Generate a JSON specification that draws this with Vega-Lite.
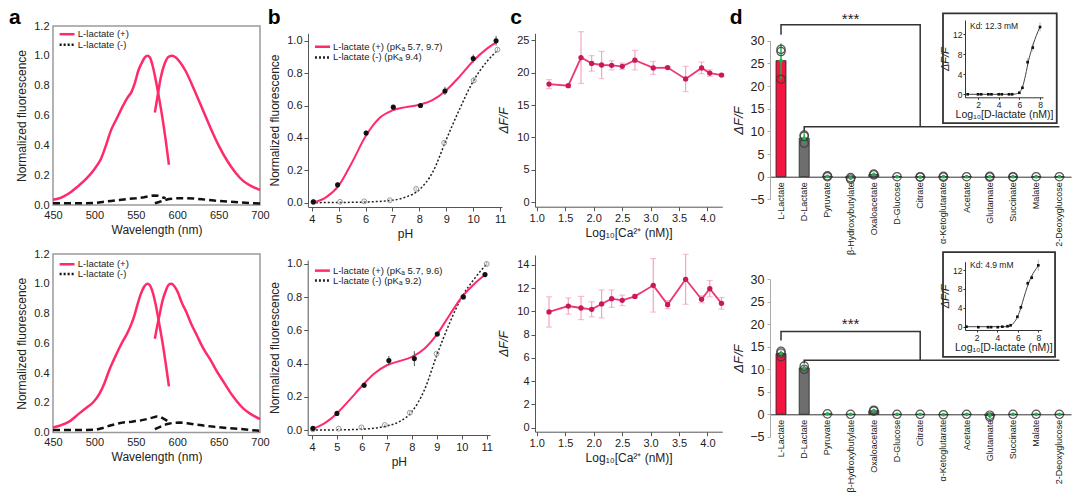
{
"$schema":"https://vega.github.io/schema/vega-lite/v6.json",
"width":1080,"height":498,"autosize":{"type":"none"},"padding":0,
"config":{"view":{"stroke":null},"font":"Liberation Sans","axis":{"grid":false,"labelFont":"Liberation Sans","titleFont":"Liberation Sans","labelFontSize":11,"titleFontSize":12,"titleFontWeight":"normal","labelColor":"#222","titleColor":"#222","domainColor":"#555","tickColor":"#555","labelFlush":false,"labelOverlap":false,"tickSize":4,"labelPadding":2,"titlePadding":4}},
"datasets":{
"a1":[
{"s":"pe","x":450,"y":0.035},{"s":"pe","x":460,"y":0.05},{"s":"pe","x":470,"y":0.08},{"s":"pe","x":480,"y":0.125},{"s":"pe","x":490,"y":0.175},{"s":"pe","x":500,"y":0.24},{"s":"pe","x":508,"y":0.31},{"s":"pe","x":514,"y":0.4},{"s":"pe","x":520,"y":0.5},{"s":"pe","x":527,"y":0.58},{"s":"pe","x":534,"y":0.66},{"s":"pe","x":540,"y":0.72},{"s":"pe","x":545,"y":0.76},{"s":"pe","x":549,"y":0.82},{"s":"pe","x":553,"y":0.9},{"s":"pe","x":557,"y":0.95},{"s":"pe","x":561,"y":0.99},{"s":"pe","x":564,"y":1.0},{"s":"pe","x":567,"y":0.99},{"s":"pe","x":570,"y":0.94},{"s":"pe","x":574,"y":0.84},{"s":"pe","x":578,"y":0.72},{"s":"pe","x":582,"y":0.59},{"s":"pe","x":586,"y":0.44},{"s":"pe","x":590,"y":0.27},
{"s":"pm","x":573,"y":0.62},{"s":"pm","x":576,"y":0.72},{"s":"pm","x":580,"y":0.85},{"s":"pm","x":585,"y":0.95},{"s":"pm","x":590,"y":0.995},{"s":"pm","x":594,"y":1.0},{"s":"pm","x":598,"y":0.99},{"s":"pm","x":603,"y":0.96},{"s":"pm","x":610,"y":0.9},{"s":"pm","x":620,"y":0.78},{"s":"pm","x":630,"y":0.65},{"s":"pm","x":640,"y":0.52},{"s":"pm","x":650,"y":0.4},{"s":"pm","x":660,"y":0.3},{"s":"pm","x":670,"y":0.22},{"s":"pm","x":680,"y":0.16},{"s":"pm","x":690,"y":0.125},{"s":"pm","x":700,"y":0.1},
{"s":"ke","x":450,"y":0.012},{"s":"ke","x":470,"y":0.012},{"s":"ke","x":490,"y":0.012},{"s":"ke","x":500,"y":0.014},{"s":"ke","x":510,"y":0.02},{"s":"ke","x":520,"y":0.027},{"s":"ke","x":530,"y":0.033},{"s":"ke","x":540,"y":0.04},{"s":"ke","x":550,"y":0.045},{"s":"ke","x":560,"y":0.052},{"s":"ke","x":567,"y":0.06},{"s":"ke","x":572,"y":0.064},{"s":"ke","x":577,"y":0.062},{"s":"ke","x":582,"y":0.052},{"s":"ke","x":586,"y":0.045},
{"s":"km","x":573,"y":0.012},{"s":"km","x":578,"y":0.02},{"s":"km","x":583,"y":0.03},{"s":"km","x":590,"y":0.04},{"s":"km","x":600,"y":0.045},{"s":"km","x":610,"y":0.046},{"s":"km","x":620,"y":0.044},{"s":"km","x":630,"y":0.038},{"s":"km","x":645,"y":0.03},{"s":"km","x":660,"y":0.024},{"s":"km","x":675,"y":0.018},{"s":"km","x":690,"y":0.013},{"s":"km","x":700,"y":0.01}],
"a2":[
{"s":"pe","x":450,"y":0.034},{"s":"pe","x":460,"y":0.05},{"s":"pe","x":470,"y":0.075},{"s":"pe","x":480,"y":0.12},{"s":"pe","x":490,"y":0.165},{"s":"pe","x":498,"y":0.2},{"s":"pe","x":506,"y":0.26},{"s":"pe","x":512,"y":0.33},{"s":"pe","x":518,"y":0.42},{"s":"pe","x":526,"y":0.52},{"s":"pe","x":533,"y":0.6},{"s":"pe","x":539,"y":0.66},{"s":"pe","x":544,"y":0.72},{"s":"pe","x":548,"y":0.78},{"s":"pe","x":552,"y":0.86},{"s":"pe","x":556,"y":0.93},{"s":"pe","x":560,"y":0.98},{"s":"pe","x":564,"y":1.0},{"s":"pe","x":567,"y":0.99},{"s":"pe","x":570,"y":0.95},{"s":"pe","x":574,"y":0.86},{"s":"pe","x":578,"y":0.74},{"s":"pe","x":583,"y":0.58},{"s":"pe","x":587,"y":0.43},{"s":"pe","x":590,"y":0.31},
{"s":"pm","x":573,"y":0.63},{"s":"pm","x":576,"y":0.72},{"s":"pm","x":579,"y":0.8},{"s":"pm","x":582,"y":0.88},{"s":"pm","x":586,"y":0.95},{"s":"pm","x":590,"y":0.995},{"s":"pm","x":593,"y":1.0},{"s":"pm","x":597,"y":0.98},{"s":"pm","x":601,"y":0.94},{"s":"pm","x":605,"y":0.88},{"s":"pm","x":611,"y":0.81},{"s":"pm","x":617,"y":0.73},{"s":"pm","x":624,"y":0.65},{"s":"pm","x":631,"y":0.57},{"s":"pm","x":640,"y":0.49},{"s":"pm","x":648,"y":0.41},{"s":"pm","x":656,"y":0.34},{"s":"pm","x":664,"y":0.27},{"s":"pm","x":672,"y":0.21},{"s":"pm","x":680,"y":0.16},{"s":"pm","x":690,"y":0.12},{"s":"pm","x":700,"y":0.09},
{"s":"ke","x":450,"y":0.016},{"s":"ke","x":470,"y":0.016},{"s":"ke","x":490,"y":0.017},{"s":"ke","x":502,"y":0.018},{"s":"ke","x":510,"y":0.03},{"s":"ke","x":518,"y":0.045},{"s":"ke","x":528,"y":0.06},{"s":"ke","x":535,"y":0.068},{"s":"ke","x":545,"y":0.073},{"s":"ke","x":555,"y":0.08},{"s":"ke","x":563,"y":0.09},{"s":"ke","x":570,"y":0.1},{"s":"ke","x":575,"y":0.108},{"s":"ke","x":580,"y":0.104},{"s":"ke","x":585,"y":0.088},{"s":"ke","x":591,"y":0.068},
{"s":"km","x":573,"y":0.022},{"s":"km","x":580,"y":0.04},{"s":"km","x":587,"y":0.056},{"s":"km","x":595,"y":0.065},{"s":"km","x":603,"y":0.068},{"s":"km","x":612,"y":0.062},{"s":"km","x":620,"y":0.055},{"s":"km","x":630,"y":0.048},{"s":"km","x":645,"y":0.038},{"s":"km","x":660,"y":0.03},{"s":"km","x":675,"y":0.024},{"s":"km","x":690,"y":0.016},{"s":"km","x":700,"y":0.011}],
"b1":[
{"s":"pf","x":4.0,"y":0.0},{"s":"pf","x":4.5,"y":0.03},{"s":"pf","x":5.0,"y":0.105},{"s":"pf","x":5.5,"y":0.25},{"s":"pf","x":6.0,"y":0.41},{"s":"pf","x":6.5,"y":0.52},{"s":"pf","x":7.0,"y":0.57},{"s":"pf","x":7.5,"y":0.59},{"s":"pf","x":8.0,"y":0.605},{"s":"pf","x":8.5,"y":0.635},{"s":"pf","x":9.0,"y":0.695},{"s":"pf","x":9.5,"y":0.78},{"s":"pf","x":10.0,"y":0.875},{"s":"pf","x":10.5,"y":0.95},{"s":"pf","x":10.9,"y":0.995},
{"s":"mf","x":4.0,"y":0.0},{"s":"mf","x":5.0,"y":0.001},{"s":"mf","x":6.0,"y":0.004},{"s":"mf","x":7.0,"y":0.015},{"s":"mf","x":7.5,"y":0.035},{"s":"mf","x":8.0,"y":0.08},{"s":"mf","x":8.5,"y":0.19},{"s":"mf","x":9.0,"y":0.39},{"s":"mf","x":9.5,"y":0.58},{"s":"mf","x":10.0,"y":0.75},{"s":"mf","x":10.5,"y":0.87},{"s":"mf","x":10.9,"y":0.94},
{"s":"pp","x":4.06,"y":0.005,"lo":0.0,"hi":0.01},{"s":"pp","x":4.96,"y":0.11,"lo":0.095,"hi":0.125},{"s":"pp","x":6.02,"y":0.43,"lo":0.415,"hi":0.445},{"s":"pp","x":7.03,"y":0.59,"lo":0.582,"hi":0.598},{"s":"pp","x":8.04,"y":0.6,"lo":0.592,"hi":0.608},{"s":"pp","x":8.95,"y":0.69,"lo":0.665,"hi":0.715},{"s":"pp","x":10.0,"y":0.89,"lo":0.865,"hi":0.915},{"s":"pp","x":10.85,"y":1.0,"lo":0.97,"hi":1.03},
{"s":"mp","x":4.06,"y":0.003,"lo":0.0,"hi":0.006},{"s":"mp","x":5.05,"y":0.005,"lo":0.001,"hi":0.009},{"s":"mp","x":5.95,"y":0.008,"lo":0.003,"hi":0.013},{"s":"mp","x":6.9,"y":0.015,"lo":0.01,"hi":0.02},{"s":"mp","x":7.88,"y":0.085,"lo":0.077,"hi":0.093},{"s":"mp","x":8.92,"y":0.37,"lo":0.36,"hi":0.38},{"s":"mp","x":10.02,"y":0.755,"lo":0.735,"hi":0.775},{"s":"mp","x":10.9,"y":0.945,"lo":0.933,"hi":0.957}],
"b2":[
{"s":"pf","x":4.0,"y":0.005},{"s":"pf","x":4.5,"y":0.04},{"s":"pf","x":5.0,"y":0.1},{"s":"pf","x":5.5,"y":0.18},{"s":"pf","x":6.0,"y":0.265},{"s":"pf","x":6.5,"y":0.34},{"s":"pf","x":7.0,"y":0.39},{"s":"pf","x":7.5,"y":0.415},{"s":"pf","x":8.0,"y":0.44},{"s":"pf","x":8.5,"y":0.49},{"s":"pf","x":9.0,"y":0.575},{"s":"pf","x":9.5,"y":0.69},{"s":"pf","x":10.0,"y":0.8},{"s":"pf","x":10.5,"y":0.88},{"s":"pf","x":10.93,"y":0.935},
{"s":"mf","x":4.0,"y":0.0},{"s":"mf","x":5.0,"y":0.001},{"s":"mf","x":6.0,"y":0.005},{"s":"mf","x":7.0,"y":0.025},{"s":"mf","x":7.5,"y":0.05},{"s":"mf","x":8.0,"y":0.11},{"s":"mf","x":8.5,"y":0.24},{"s":"mf","x":9.0,"y":0.45},{"s":"mf","x":9.5,"y":0.64},{"s":"mf","x":10.0,"y":0.8},{"s":"mf","x":10.5,"y":0.91},{"s":"mf","x":11.0,"y":1.0},
{"s":"pp","x":4.04,"y":0.01,"lo":0.0,"hi":0.02},{"s":"pp","x":5.0,"y":0.1,"lo":0.09,"hi":0.11},{"s":"pp","x":6.09,"y":0.27,"lo":0.255,"hi":0.285},{"s":"pp","x":7.08,"y":0.418,"lo":0.39,"hi":0.446},{"s":"pp","x":8.1,"y":0.43,"lo":0.385,"hi":0.475},{"s":"pp","x":9.02,"y":0.578,"lo":0.563,"hi":0.593},{"s":"pp","x":10.06,"y":0.803,"lo":0.788,"hi":0.818},{"s":"pp","x":10.93,"y":0.936,"lo":0.926,"hi":0.946},
{"s":"mp","x":4.04,"y":0.004,"lo":0.0,"hi":0.008},{"s":"mp","x":5.07,"y":0.008,"lo":0.003,"hi":0.013},{"s":"mp","x":5.98,"y":0.016,"lo":0.01,"hi":0.022},{"s":"mp","x":6.92,"y":0.03,"lo":0.025,"hi":0.035},{"s":"mp","x":7.92,"y":0.104,"lo":0.094,"hi":0.114},{"s":"mp","x":8.99,"y":0.46,"lo":0.45,"hi":0.47},{"s":"mp","x":10.06,"y":0.8,"lo":0.79,"hi":0.81},{"s":"mp","x":11.0,"y":1.0,"lo":0.985,"hi":1.015}],
"c1":[
{"x":1.216,"y":18.25,"lo":17.55,"hi":18.95},{"x":1.555,"y":18.0,"lo":17.8,"hi":18.2},{"x":1.778,"y":22.35,"lo":18.35,"hi":26.35},{"x":1.965,"y":21.45,"lo":20.25,"hi":22.65},{"x":2.14,"y":21.2,"lo":19.1,"hi":23.3},{"x":2.316,"y":21.15,"lo":20.45,"hi":21.85},{"x":2.502,"y":21.0,"lo":20.5,"hi":21.5},{"x":2.725,"y":21.95,"lo":20.45,"hi":23.45},{"x":3.047,"y":20.75,"lo":19.75,"hi":21.75},{"x":3.3,"y":20.8,"lo":20.6,"hi":21.0},{"x":3.616,"y":19.05,"lo":17.1,"hi":21.0},{"x":3.896,"y":20.75,"lo":19.85,"hi":21.65},{"x":4.04,"y":19.95,"lo":19.45,"hi":20.45},{"x":4.246,"y":19.65,"lo":19.45,"hi":19.85}],
"c2":[
{"x":1.216,"y":9.96,"lo":8.66,"hi":11.26},{"x":1.555,"y":10.47,"lo":9.77,"hi":11.17},{"x":1.778,"y":10.3,"lo":9.3,"hi":11.3},{"x":1.965,"y":10.19,"lo":9.54,"hi":10.84},{"x":2.14,"y":10.65,"lo":9.45,"hi":11.85},{"x":2.316,"y":11.1,"lo":10.35,"hi":11.85},{"x":2.502,"y":10.96,"lo":10.51,"hi":11.41},{"x":2.725,"y":11.3,"lo":11.15,"hi":11.45},{"x":3.047,"y":12.25,"lo":9.95,"hi":14.55},{"x":3.3,"y":10.59,"lo":10.24,"hi":10.94},{"x":3.616,"y":12.77,"lo":10.62,"hi":14.92},{"x":3.896,"y":11.05,"lo":10.75,"hi":11.35},{"x":4.04,"y":11.96,"lo":11.26,"hi":12.66},{"x":4.246,"y":10.7,"lo":10.2,"hi":11.2}],
"d1":[
{"cat":"L-Lactate","y":25.6,"lo":21.5,"hi":29.4,"col":"#f2153f"},{"cat":"D-Lactate","y":8.5,"lo":7.4,"hi":9.6,"col":"#6e6e6e"},{"cat":"Pyruvate","y":0.1,"lo":-0.1,"hi":0.3,"col":"#6e6e6e"},{"cat":"β-Hydroxybutylate","y":-0.3,"lo":-0.6,"hi":0.0,"col":"#6e6e6e"},{"cat":"Oxaloacetate","y":0.5,"lo":0.3,"hi":0.7,"col":"#6e6e6e"},{"cat":"D-Glucose","y":0.0,"lo":-0.1,"hi":0.1,"col":"#6e6e6e"},{"cat":"Citrate","y":-0.1,"lo":-0.3,"hi":0.1,"col":"#6e6e6e"},{"cat":"α-Ketoglutarate","y":0.0,"lo":-0.2,"hi":0.2,"col":"#6e6e6e"},{"cat":"Acetate","y":0.0,"lo":-0.1,"hi":0.1,"col":"#6e6e6e"},{"cat":"Glutamate","y":0.0,"lo":-0.2,"hi":0.2,"col":"#6e6e6e"},{"cat":"Succinate","y":0.0,"lo":-0.2,"hi":0.2,"col":"#6e6e6e"},{"cat":"Malate","y":0.0,"lo":-0.1,"hi":0.1,"col":"#6e6e6e"},{"cat":"2-Deoxyglucose","y":0.0,"lo":-0.1,"hi":0.1,"col":"#6e6e6e"}],
"d1c":[
{"cat":"L-Lactate","y":28.1},{"cat":"L-Lactate","y":27.6},{"cat":"L-Lactate","y":21.5},{"cat":"D-Lactate","y":9.2},{"cat":"D-Lactate","y":8.9},{"cat":"D-Lactate","y":7.4},{"cat":"Pyruvate","y":0.2},{"cat":"Pyruvate","y":0.0},{"cat":"β-Hydroxybutylate","y":-0.2},{"cat":"β-Hydroxybutylate","y":-0.5},{"cat":"Oxaloacetate","y":0.6},{"cat":"Oxaloacetate","y":0.4},{"cat":"D-Glucose","y":0.0},{"cat":"Citrate","y":-0.1},{"cat":"Citrate","y":0.0},{"cat":"α-Ketoglutarate","y":0.1},{"cat":"α-Ketoglutarate","y":-0.1},{"cat":"Acetate","y":0.0},{"cat":"Glutamate","y":0.1},{"cat":"Glutamate","y":-0.1},{"cat":"Succinate","y":0.0},{"cat":"Succinate","y":-0.1},{"cat":"Malate","y":0.0},{"cat":"2-Deoxyglucose","y":0.0}],
"d2":[
{"cat":"L-Lactate","y":13.5,"lo":12.8,"hi":14.2,"col":"#f2153f"},{"cat":"D-Lactate","y":10.3,"lo":9.9,"hi":10.8,"col":"#6e6e6e"},{"cat":"Pyruvate","y":0.1,"lo":0.0,"hi":0.2,"col":"#6e6e6e"},{"cat":"β-Hydroxybutylate","y":0.0,"lo":-0.1,"hi":0.1,"col":"#6e6e6e"},{"cat":"Oxaloacetate","y":0.8,"lo":0.6,"hi":1.0,"col":"#6e6e6e"},{"cat":"D-Glucose","y":0.0,"lo":-0.1,"hi":0.1,"col":"#6e6e6e"},{"cat":"Citrate","y":0.0,"lo":-0.1,"hi":0.1,"col":"#6e6e6e"},{"cat":"α-Ketoglutarate","y":-0.1,"lo":-0.3,"hi":0.1,"col":"#6e6e6e"},{"cat":"Acetate","y":0.0,"lo":-0.1,"hi":0.1,"col":"#6e6e6e"},{"cat":"Glutamate","y":-0.3,"lo":-0.8,"hi":0.1,"col":"#6e6e6e"},{"cat":"Succinate","y":0.0,"lo":-0.1,"hi":0.1,"col":"#6e6e6e"},{"cat":"Malate","y":0.0,"lo":-0.1,"hi":0.1,"col":"#6e6e6e"},{"cat":"2-Deoxyglucose","y":0.0,"lo":-0.1,"hi":0.1,"col":"#6e6e6e"}],
"d2c":[
{"cat":"L-Lactate","y":14.0},{"cat":"L-Lactate","y":13.6},{"cat":"L-Lactate","y":12.8},{"cat":"D-Lactate","y":10.7},{"cat":"D-Lactate","y":10.0},{"cat":"Pyruvate","y":0.1},{"cat":"β-Hydroxybutylate","y":0.0},{"cat":"Oxaloacetate","y":0.9},{"cat":"Oxaloacetate","y":0.7},{"cat":"D-Glucose","y":0.0},{"cat":"Citrate","y":0.0},{"cat":"α-Ketoglutarate","y":-0.1},{"cat":"Acetate","y":0.0},{"cat":"Glutamate","y":-0.2},{"cat":"Glutamate","y":-0.6},{"cat":"Succinate","y":0.0},{"cat":"Malate","y":0.0},{"cat":"2-Deoxyglucose","y":0.0}],
"br1":[
{"g":"a","cat":"L-Lactate","y":31.3,"o":1},{"g":"a","cat":"L-Lactate","y":33.5,"o":2},{"g":"a","cat":"Citrate","y":33.5,"o":3},{"g":"a","cat":"Citrate","y":11,"o":4},
{"g":"b","cat":"D-Lactate","y":9.9,"o":1},{"g":"b","cat":"D-Lactate","y":11,"o":2},{"g":"b","cat":"2-Deoxyglucose","y":11,"o":3}],
"br2":[
{"g":"a","cat":"L-Lactate","y":16.4,"o":1},{"g":"a","cat":"L-Lactate","y":18.4,"o":2},{"g":"a","cat":"Citrate","y":18.4,"o":3},{"g":"a","cat":"Citrate","y":12,"o":4},
{"g":"b","cat":"D-Lactate","y":11.3,"o":1},{"g":"b","cat":"D-Lactate","y":12,"o":2},{"g":"b","cat":"2-Deoxyglucose","y":12,"o":3}],
"i1":[
{"s":"pt","x":1.0,"y":0,"lo":0,"hi":0},{"s":"pt","x":2.0,"y":0,"lo":0,"hi":0},{"s":"pt","x":2.3,"y":0,"lo":0,"hi":0},{"s":"pt","x":3.0,"y":0,"lo":0,"hi":0},{"s":"pt","x":3.3,"y":0,"lo":0,"hi":0},{"s":"pt","x":4.0,"y":0,"lo":0,"hi":0},{"s":"pt","x":4.3,"y":0,"lo":0,"hi":0},{"s":"pt","x":5.0,"y":0,"lo":0,"hi":0},{"s":"pt","x":5.3,"y":0,"lo":0,"hi":0},{"s":"pt","x":6.0,"y":0.3,"lo":0.1,"hi":0.5},{"s":"pt","x":6.3,"y":1.3,"lo":1.0,"hi":1.6},{"s":"pt","x":6.8,"y":6.4,"lo":5.6,"hi":7.2},{"s":"pt","x":7.3,"y":9.3,"lo":8.5,"hi":10.1},{"s":"pt","x":8.0,"y":13.4,"lo":12.5,"hi":14.3},
{"s":"fit","x":0.9,"y":0},{"s":"fit","x":5.3,"y":0},{"s":"fit","x":5.6,"y":0.05},{"s":"fit","x":6.0,"y":0.4},{"s":"fit","x":6.3,"y":1.4},{"s":"fit","x":6.6,"y":3.8},{"s":"fit","x":6.9,"y":6.8},{"s":"fit","x":7.2,"y":9.0},{"s":"fit","x":7.5,"y":10.9},{"s":"fit","x":7.8,"y":12.5},{"s":"fit","x":8.0,"y":13.4}],
"i2":[
{"s":"pt","x":1.0,"y":0,"lo":0,"hi":0},{"s":"pt","x":2.16,"y":-0.1,"lo":-0.1,"hi":-0.1},{"s":"pt","x":3.1,"y":-0.1,"lo":-0.1,"hi":-0.1},{"s":"pt","x":3.4,"y":-0.1,"lo":-0.1,"hi":-0.1},{"s":"pt","x":4.05,"y":-0.1,"lo":-0.1,"hi":-0.1},{"s":"pt","x":4.5,"y":0,"lo":0,"hi":0},{"s":"pt","x":5.0,"y":0.1,"lo":0.1,"hi":0.1},{"s":"pt","x":5.3,"y":0.3,"lo":0.2,"hi":0.4},{"s":"pt","x":5.96,"y":2.1,"lo":1.8,"hi":2.4},{"s":"pt","x":6.3,"y":4.1,"lo":3.7,"hi":4.5},{"s":"pt","x":6.97,"y":9.2,"lo":8.6,"hi":9.8},{"s":"pt","x":7.36,"y":10.4,"lo":9.9,"hi":10.9},{"s":"pt","x":8.0,"y":13.0,"lo":11.8,"hi":14.2},
{"s":"fit","x":0.9,"y":0},{"s":"fit","x":5.0,"y":0},{"s":"fit","x":5.3,"y":0.2},{"s":"fit","x":5.6,"y":0.8},{"s":"fit","x":6.0,"y":2.2},{"s":"fit","x":6.3,"y":4.0},{"s":"fit","x":6.6,"y":6.2},{"s":"fit","x":6.9,"y":8.3},{"s":"fit","x":7.2,"y":10.0},{"s":"fit","x":7.5,"y":11.3},{"s":"fit","x":7.8,"y":12.3},{"s":"fit","x":8.0,"y":12.9}]
},
"layer":[
{"encoding":{
 "x":{"field":"x","type":"quantitative","scale":{"domain":[450,700],"range":[53,260],"nice":false,"zero":false},"axis":{"orient":"bottom","offset":-293,"values":[450,500,550,600,650,700],"title":"Wavelength (nm)","domain":false,"ticks":false,"labelPadding":4}},
 "y":{"field":"y","type":"quantitative","scale":{"domain":[0,1.2],"range":[205,26],"nice":false,"zero":false},"axis":{"orient":"left","offset":-53,"values":[0,0.2,0.4,0.6,0.8,1,1.2],"format":".1f","title":"Normalized fluorescence","domain":false,"ticks":false,"labelPadding":4,"titlePadding":5}}},
 "layer":[
 {"data":{"values":[{"x":450,"x2":700,"y":0,"y2":1.2}]},"mark":{"type":"rect","fill":"transparent","stroke":"#9a9a9a","strokeWidth":1.5},"encoding":{"x2":{"field":"x2"},"y2":{"field":"y2"}}},
 {"data":{"name":"a1"},"transform":[{"filter":"datum.s=='ke'||datum.s=='km'"}],"mark":{"type":"line","color":"#111","strokeWidth":2.5,"strokeDash":[7,4]},"encoding":{"detail":{"field":"s"}}},
 {"data":{"name":"a1"},"transform":[{"filter":"datum.s=='pe'||datum.s=='pm'"}],"mark":{"type":"line","color":"#ff2a6a","strokeWidth":2.5,"interpolate":"monotone"},"encoding":{"detail":{"field":"s"}}},
 {"data":{"values":[{"x":458,"x2":476,"y":1.145}]},"mark":{"type":"rule","color":"#ff2a6a","strokeWidth":2.5},"encoding":{"x2":{"field":"x2"}}},
 {"data":{"values":[{"x":458,"x2":476,"y":1.075}]},"mark":{"type":"rule","color":"#111","strokeWidth":2.5,"strokeDash":[2,2]},"encoding":{"x2":{"field":"x2"}}},
 {"data":{"values":[{"x":480,"y":1.145,"t":"L-lactate (+)"},{"x":480,"y":1.075,"t":"L-lactate (-)"}]},"mark":{"type":"text","align":"left","baseline":"middle","fontSize":9.5,"color":"#222"},"encoding":{"text":{"field":"t"}}},
 {"data":{"values":[{"x":404,"y":1.253,"t":"a"}]},"mark":{"type":"text","align":"center","baseline":"middle","fontSize":21,"fontWeight":"bold","color":"#000"},"encoding":{"text":{"field":"t"}}}
 ]},
{"encoding":{
 "x":{"field":"x","type":"quantitative","scale":{"domain":[3.86,11.07],"range":[308,502],"nice":false,"zero":false},"axis":{"orient":"bottom","offset":-291,"values":[4,5,6,7,8,9,10,11],"title":"pH"}},
 "y":{"field":"y","type":"quantitative","scale":{"domain":[-0.025,1.046],"range":[206.7,33.3],"nice":false,"zero":false},"axis":{"orient":"left","offset":-308,"values":[0,0.2,0.4,0.6,0.8,1],"format":".1f","title":"Normalized fluorescence","titlePadding":5}}},
 "layer":[
 {"data":{"name":"b1"},"transform":[{"filter":"datum.s=='mf'"}],"mark":{"type":"line","color":"#222","strokeWidth":1.5,"strokeDash":[2,2],"interpolate":"monotone"}},
 {"data":{"name":"b1"},"transform":[{"filter":"datum.s=='pf'"}],"mark":{"type":"line","color":"#ff2a6a","strokeWidth":2,"interpolate":"monotone"}},
 {"data":{"name":"b1"},"transform":[{"filter":"datum.s=='mp'"}],"mark":{"type":"rule","color":"#aaa"},"encoding":{"y":{"field":"lo","type":"quantitative","scale":{"domain":[-0.025,1.046],"range":[206.7,33.3],"nice":false,"zero":false},"axis":{"orient":"left","offset":-308,"values":[0,0.2,0.4,0.6,0.8,1],"format":".1f","title":"Normalized fluorescence","titlePadding":5}},"y2":{"field":"hi"}}},
 {"data":{"name":"b1"},"transform":[{"filter":"datum.s=='mp'"}],"mark":{"type":"point","shape":"circle","filled":false,"color":"#999","size":24,"strokeWidth":1,"opacity":1}},
 {"data":{"name":"b1"},"transform":[{"filter":"datum.s=='pp'"}],"mark":{"type":"rule","color":"#555"},"encoding":{"y":{"field":"lo","type":"quantitative","scale":{"domain":[-0.025,1.046],"range":[206.7,33.3],"nice":false,"zero":false},"axis":{"orient":"left","offset":-308,"values":[0,0.2,0.4,0.6,0.8,1],"format":".1f","title":"Normalized fluorescence","titlePadding":5}},"y2":{"field":"hi"}}},
 {"data":{"name":"b1"},"transform":[{"filter":"datum.s=='pp'"}],"mark":{"type":"point","shape":"circle","filled":true,"color":"#111","size":26,"opacity":1}},
 {"data":{"values":[{"x":4.12,"x2":4.68,"y":0.963}]},"mark":{"type":"rule","color":"#ff2a6a","strokeWidth":2.5},"encoding":{"x2":{"field":"x2"}}},
 {"data":{"values":[{"x":4.12,"x2":4.68,"y":0.897}]},"mark":{"type":"rule","color":"#222","strokeWidth":2.5,"strokeDash":[2,2]},"encoding":{"x2":{"field":"x2"}}},
 {"data":{"values":[{"x":4.79,"y":0.963,"t":"L-lactate (+) (pKₐ 5.7, 9.7)"},{"x":4.79,"y":0.897,"t":"L-lactate (-) (pKₐ 9.4)"}]},"mark":{"type":"text","align":"left","baseline":"middle","fontSize":9.5,"color":"#222"},"encoding":{"text":{"field":"t"}}},
 {"data":{"values":[{"x":2.6,"y":1.14,"t":"b"}]},"mark":{"type":"text","align":"center","baseline":"middle","fontSize":21,"fontWeight":"bold","color":"#000"},"encoding":{"text":{"field":"t"}}}
 ]},
{"encoding":{
 "x":{"field":"x","type":"quantitative","scale":{"domain":[0.97,4.26],"range":[535,722.3],"nice":false,"zero":false},"axis":{"orient":"bottom","offset":-291.3,"values":[1,1.5,2,2.5,3,3.5,4],"format":".1f","title":"Log₁₀[Ca²⁺ (nM)]"}},
 "y":{"field":"y","type":"quantitative","scale":{"domain":[-0.7,26.1],"range":[206.7,33.3],"nice":false,"zero":false},"axis":{"orient":"left","offset":-535,"values":[0,5,10,15,20,25],"title":"ΔF/F","titleFontStyle":"italic","titlePadding":6}}},
 "layer":[
 {"data":{"name":"c1"},"mark":{"type":"rule","color":"#f5a3c0","strokeWidth":1.2},"encoding":{"y":{"field":"lo","type":"quantitative","scale":{"domain":[-0.7,26.1],"range":[206.7,33.3],"nice":false,"zero":false},"axis":{"orient":"left","offset":-535,"values":[0,5,10,15,20,25],"title":"ΔF/F","titleFontStyle":"italic","titlePadding":6}},"y2":{"field":"hi"}}},
 {"data":{"name":"c1"},"mark":{"type":"tick","orient":"horizontal","size":6,"thickness":1.2,"color":"#f5a3c0"},"encoding":{"y":{"field":"lo","type":"quantitative","scale":{"domain":[-0.7,26.1],"range":[206.7,33.3],"nice":false,"zero":false},"axis":{"orient":"left","offset":-535,"values":[0,5,10,15,20,25],"title":"ΔF/F","titleFontStyle":"italic","titlePadding":6}}}},
 {"data":{"name":"c1"},"mark":{"type":"tick","orient":"horizontal","size":6,"thickness":1.2,"color":"#f5a3c0"},"encoding":{"y":{"field":"hi","type":"quantitative","scale":{"domain":[-0.7,26.1],"range":[206.7,33.3],"nice":false,"zero":false},"axis":{"orient":"left","offset":-535,"values":[0,5,10,15,20,25],"title":"ΔF/F","titleFontStyle":"italic","titlePadding":6}}}},
 {"data":{"name":"c1"},"mark":{"type":"line","color":"#eb3a72","strokeWidth":1.8}},
 {"data":{"name":"c1"},"mark":{"type":"point","shape":"circle","filled":true,"color":"#c8175d","size":28,"opacity":1}},
 {"data":{"values":[{"x":0.637,"y":28.5,"t":"c"}]},"mark":{"type":"text","align":"center","baseline":"middle","fontSize":21,"fontWeight":"bold","color":"#000"},"encoding":{"text":{"field":"t"}}}
 ]},
{"encoding":{
 "x":{"field":"cat","type":"nominal","scale":{"type":"band","domain":["L-Lactate","D-Lactate","Pyruvate","β-Hydroxybutylate","Oxaloacetate","D-Glucose","Citrate","α-Ketoglutarate","Acetate","Glutamate","Succinate","Malate","2-Deoxyglucose"],"range":[769.4,1071],"paddingInner":0.57,"paddingOuter":0.285},"axis":{"orient":"bottom","offset":-321.3,"labelAngle":-90,"labelFontSize":9,"title":null,"ticks":false,"labelPadding":5,"domainColor":"#333"}},
 "y":{"field":"y","type":"quantitative","scale":{"domain":[-5,30],"range":[199.4,40.7],"nice":false,"zero":false},"axis":{"orient":"left","offset":-770,"values":[-5,0,5,10,15,20,25,30],"title":"ΔF/F","titleFontStyle":"italic","labelFontSize":12.5,"titleFontSize":13,"tickSize":3,"labelPadding":3,"domainColor":"#aaa","tickColor":"#aaa","titlePadding":4}}},
 "layer":[
 {"data":{"name":"d1"},"mark":{"type":"bar","stroke":"#222","strokeWidth":0.8},"encoding":{"y2":{"datum":0},"color":{"field":"col","type":"nominal","scale":null}}},
 {"data":{"name":"d1"},"mark":{"type":"rule","color":"#22b14c","strokeWidth":1.5},"encoding":{"y":{"field":"lo","type":"quantitative","scale":{"domain":[-5,30],"range":[199.4,40.7],"nice":false,"zero":false},"axis":{"orient":"left","offset":-770,"values":[-5,0,5,10,15,20,25,30],"title":"ΔF/F","titleFontStyle":"italic","labelFontSize":12.5,"titleFontSize":13,"tickSize":3,"labelPadding":3,"domainColor":"#aaa","tickColor":"#aaa","titlePadding":4}},"y2":{"field":"hi"}}},
 {"data":{"name":"d1c"},"mark":{"type":"point","shape":"circle","filled":false,"size":70,"color":"#3a3a3a","strokeWidth":1.2,"opacity":0.85}},
 {"data":{"name":"d1"},"mark":{"type":"point","shape":"circle","filled":true,"size":14,"color":"#22b14c","opacity":1}},
 {"data":{"name":"br1"},"mark":{"type":"line","color":"#333","strokeWidth":1.5},"encoding":{"detail":{"field":"g"},"order":{"field":"o"}}},
 {"data":{"values":[{"cat":"β-Hydroxybutylate","y":33.6,"t":"***"}]},"mark":{"type":"text","align":"center","baseline":"alphabetic","fontSize":15,"color":"#222"},"encoding":{"text":{"field":"t"}}}
 ]},
{"encoding":{
 "x":{"field":"x","type":"quantitative","scale":{"domain":[0.74,8.29],"range":[965,1043],"nice":false,"zero":false},"axis":{"orient":"bottom","offset":-400.7,"values":[2,4,6,8],"title":"Log₁₀[D-lactate (nM)]","labelFontSize":8.5,"titleFontSize":10.5,"tickSize":2,"labelPadding":1,"titlePadding":1,"domainColor":"#333","tickColor":"#333"}},
 "y":{"field":"y","type":"quantitative","scale":{"domain":[-0.6,14.8],"range":[97.3,20],"nice":false,"zero":false},"axis":{"orient":"left","offset":-965,"values":[0,4,8,12],"title":"ΔF/F","titleFontStyle":"italic","labelFontSize":8.5,"titleFontSize":11,"tickSize":2,"labelPadding":1,"titlePadding":2,"domainColor":"#333","tickColor":"#333"}}},
 "layer":[
 {"data":{"values":[{"x":-1.39,"x2":9.62,"y":-5.74,"y2":16.1}]},"mark":{"type":"rect","fill":"transparent","stroke":"#333","strokeWidth":1.8},"encoding":{"x2":{"field":"x2"},"y2":{"field":"y2"}}},
 {"data":{"name":"i1"},"transform":[{"filter":"datum.s=='pt'"}],"mark":{"type":"rule","color":"#bbb"},"encoding":{"y":{"field":"lo","type":"quantitative","scale":{"domain":[-0.6,14.8],"range":[97.3,20],"nice":false,"zero":false},"axis":{"orient":"left","offset":-965,"values":[0,4,8,12],"title":"ΔF/F","titleFontStyle":"italic","labelFontSize":8.5,"titleFontSize":11,"tickSize":2,"labelPadding":1,"titlePadding":2,"domainColor":"#333","tickColor":"#333"}},"y2":{"field":"hi"}}},
 {"data":{"name":"i1"},"transform":[{"filter":"datum.s=='fit'"}],"mark":{"type":"line","color":"#444","strokeWidth":1,"interpolate":"monotone"}},
 {"data":{"name":"i1"},"transform":[{"filter":"datum.s=='pt'"}],"mark":{"type":"point","shape":"square","filled":true,"size":7,"color":"#111","opacity":1}},
 {"data":{"values":[{"x":1.22,"y":13.6,"t":"Kd: 12.3 mM"}]},"mark":{"type":"text","align":"left","baseline":"middle","fontSize":8.5,"color":"#222"},"encoding":{"text":{"field":"t"}}},
 {"data":{"values":[{"x":-21.4,"y":15.2,"t":"d"}]},"mark":{"type":"text","align":"center","baseline":"middle","fontSize":21,"fontWeight":"bold","color":"#000"},"encoding":{"text":{"field":"t"}}}
 ]},
{"encoding":{
 "x":{"field":"x","type":"quantitative","scale":{"domain":[450,700],"range":[53,260],"nice":false,"zero":false},"axis":{"orient":"bottom","offset":-65.5,"values":[450,500,550,600,650,700],"title":"Wavelength (nm)","domain":false,"ticks":false,"labelPadding":4}},
 "y":{"field":"y","type":"quantitative","scale":{"domain":[0,1.2],"range":[432.5,254],"nice":false,"zero":false},"axis":{"orient":"left","offset":-53,"values":[0,0.2,0.4,0.6,0.8,1,1.2],"format":".1f","title":"Normalized fluorescence","domain":false,"ticks":false,"labelPadding":4,"titlePadding":5}}},
 "layer":[
 {"data":{"values":[{"x":450,"x2":700,"y":0,"y2":1.2}]},"mark":{"type":"rect","fill":"transparent","stroke":"#9a9a9a","strokeWidth":1.5},"encoding":{"x2":{"field":"x2"},"y2":{"field":"y2"}}},
 {"data":{"name":"a2"},"transform":[{"filter":"datum.s=='ke'||datum.s=='km'"}],"mark":{"type":"line","color":"#111","strokeWidth":2.5,"strokeDash":[7,4]},"encoding":{"detail":{"field":"s"}}},
 {"data":{"name":"a2"},"transform":[{"filter":"datum.s=='pe'||datum.s=='pm'"}],"mark":{"type":"line","color":"#ff2a6a","strokeWidth":2.5,"interpolate":"monotone"},"encoding":{"detail":{"field":"s"}}},
 {"data":{"values":[{"x":458,"x2":476,"y":1.131}]},"mark":{"type":"rule","color":"#ff2a6a","strokeWidth":2.5},"encoding":{"x2":{"field":"x2"}}},
 {"data":{"values":[{"x":458,"x2":476,"y":1.065}]},"mark":{"type":"rule","color":"#111","strokeWidth":2.5,"strokeDash":[2,2]},"encoding":{"x2":{"field":"x2"}}},
 {"data":{"values":[{"x":480,"y":1.131,"t":"L-lactate (+)"},{"x":480,"y":1.065,"t":"L-lactate (-)"}]},"mark":{"type":"text","align":"left","baseline":"middle","fontSize":9.5,"color":"#222"},"encoding":{"text":{"field":"t"}}}
 ]},
{"encoding":{
 "x":{"field":"x","type":"quantitative","scale":{"domain":[3.83,11.13],"range":[307.7,490],"nice":false,"zero":false},"axis":{"orient":"bottom","offset":-63,"values":[4,5,6,7,8,9,10,11],"title":"pH"}},
 "y":{"field":"y","type":"quantitative","scale":{"domain":[-0.03,1.024],"range":[435,260],"nice":false,"zero":false},"axis":{"orient":"left","offset":-307.7,"values":[0,0.2,0.4,0.6,0.8,1],"format":".1f","title":"Normalized fluorescence","titlePadding":5}}},
 "layer":[
 {"data":{"name":"b2"},"transform":[{"filter":"datum.s=='mf'"}],"mark":{"type":"line","color":"#222","strokeWidth":1.5,"strokeDash":[2,2],"interpolate":"monotone"}},
 {"data":{"name":"b2"},"transform":[{"filter":"datum.s=='pf'"}],"mark":{"type":"line","color":"#ff2a6a","strokeWidth":2,"interpolate":"monotone"}},
 {"data":{"name":"b2"},"transform":[{"filter":"datum.s=='mp'"}],"mark":{"type":"rule","color":"#aaa"},"encoding":{"y":{"field":"lo","type":"quantitative","scale":{"domain":[-0.03,1.024],"range":[435,260],"nice":false,"zero":false},"axis":{"orient":"left","offset":-307.7,"values":[0,0.2,0.4,0.6,0.8,1],"format":".1f","title":"Normalized fluorescence","titlePadding":5}},"y2":{"field":"hi"}}},
 {"data":{"name":"b2"},"transform":[{"filter":"datum.s=='mp'"}],"mark":{"type":"point","shape":"circle","filled":false,"color":"#999","size":24,"strokeWidth":1,"opacity":1}},
 {"data":{"name":"b2"},"transform":[{"filter":"datum.s=='pp'"}],"mark":{"type":"rule","color":"#555"},"encoding":{"y":{"field":"lo","type":"quantitative","scale":{"domain":[-0.03,1.024],"range":[435,260],"nice":false,"zero":false},"axis":{"orient":"left","offset":-307.7,"values":[0,0.2,0.4,0.6,0.8,1],"format":".1f","title":"Normalized fluorescence","titlePadding":5}},"y2":{"field":"hi"}}},
 {"data":{"name":"b2"},"transform":[{"filter":"datum.s=='pp'"}],"mark":{"type":"point","shape":"circle","filled":true,"color":"#111","size":26,"opacity":1}},
 {"data":{"values":[{"x":4.12,"x2":4.72,"y":0.96}]},"mark":{"type":"rule","color":"#ff2a6a","strokeWidth":2.5},"encoding":{"x2":{"field":"x2"}}},
 {"data":{"values":[{"x":4.12,"x2":4.72,"y":0.9}]},"mark":{"type":"rule","color":"#222","strokeWidth":2.5,"strokeDash":[2,2]},"encoding":{"x2":{"field":"x2"}}},
 {"data":{"values":[{"x":4.84,"y":0.96,"t":"L-lactate (+) (pKₐ 5.7, 9.6)"},{"x":4.84,"y":0.9,"t":"L-lactate (-) (pKₐ 9.2)"}]},"mark":{"type":"text","align":"left","baseline":"middle","fontSize":9.5,"color":"#222"},"encoding":{"text":{"field":"t"}}}
 ]},
{"encoding":{
 "x":{"field":"x","type":"quantitative","scale":{"domain":[0.97,4.26],"range":[535,722.3],"nice":false,"zero":false},"axis":{"orient":"bottom","offset":-66.3,"values":[1,1.5,2,2.5,3,3.5,4],"format":".1f","title":"Log₁₀[Ca²⁺ (nM)]"}},
 "y":{"field":"y","type":"quantitative","scale":{"domain":[-0.34,14.86],"range":[431.7,255],"nice":false,"zero":false},"axis":{"orient":"left","offset":-535,"values":[0,2,4,6,8,10,12,14],"title":"ΔF/F","titleFontStyle":"italic","titlePadding":6}}},
 "layer":[
 {"data":{"name":"c2"},"mark":{"type":"rule","color":"#f5a3c0","strokeWidth":1.2},"encoding":{"y":{"field":"lo","type":"quantitative","scale":{"domain":[-0.34,14.86],"range":[431.7,255],"nice":false,"zero":false},"axis":{"orient":"left","offset":-535,"values":[0,2,4,6,8,10,12,14],"title":"ΔF/F","titleFontStyle":"italic","titlePadding":6}},"y2":{"field":"hi"}}},
 {"data":{"name":"c2"},"mark":{"type":"tick","orient":"horizontal","size":6,"thickness":1.2,"color":"#f5a3c0"},"encoding":{"y":{"field":"lo","type":"quantitative","scale":{"domain":[-0.34,14.86],"range":[431.7,255],"nice":false,"zero":false},"axis":{"orient":"left","offset":-535,"values":[0,2,4,6,8,10,12,14],"title":"ΔF/F","titleFontStyle":"italic","titlePadding":6}}}},
 {"data":{"name":"c2"},"mark":{"type":"tick","orient":"horizontal","size":6,"thickness":1.2,"color":"#f5a3c0"},"encoding":{"y":{"field":"hi","type":"quantitative","scale":{"domain":[-0.34,14.86],"range":[431.7,255],"nice":false,"zero":false},"axis":{"orient":"left","offset":-535,"values":[0,2,4,6,8,10,12,14],"title":"ΔF/F","titleFontStyle":"italic","titlePadding":6}}}},
 {"data":{"name":"c2"},"mark":{"type":"line","color":"#eb3a72","strokeWidth":1.8}},
 {"data":{"name":"c2"},"mark":{"type":"point","shape":"circle","filled":true,"color":"#c8175d","size":28,"opacity":1}}
 ]},
{"encoding":{
 "x":{"field":"cat","type":"nominal","scale":{"type":"band","domain":["L-Lactate","D-Lactate","Pyruvate","β-Hydroxybutylate","Oxaloacetate","D-Glucose","Citrate","α-Ketoglutarate","Acetate","Glutamate","Succinate","Malate","2-Deoxyglucose"],"range":[769.4,1071],"paddingInner":0.57,"paddingOuter":0.285},"axis":{"orient":"bottom","offset":-83.7,"labelAngle":-90,"labelFontSize":9,"title":null,"ticks":false,"labelPadding":5,"domainColor":"#333"}},
 "y":{"field":"y","type":"quantitative","scale":{"domain":[-5,30],"range":[436.8,279.3],"nice":false,"zero":false},"axis":{"orient":"left","offset":-770,"values":[-5,0,5,10,15,20,25,30],"title":"ΔF/F","titleFontStyle":"italic","labelFontSize":12.5,"titleFontSize":13,"tickSize":3,"labelPadding":3,"domainColor":"#aaa","tickColor":"#aaa","titlePadding":4}}},
 "layer":[
 {"data":{"name":"d2"},"mark":{"type":"bar","stroke":"#222","strokeWidth":0.8},"encoding":{"y2":{"datum":0},"color":{"field":"col","type":"nominal","scale":null}}},
 {"data":{"name":"d2"},"mark":{"type":"rule","color":"#22b14c","strokeWidth":1.5},"encoding":{"y":{"field":"lo","type":"quantitative","scale":{"domain":[-5,30],"range":[436.8,279.3],"nice":false,"zero":false},"axis":{"orient":"left","offset":-770,"values":[-5,0,5,10,15,20,25,30],"title":"ΔF/F","titleFontStyle":"italic","labelFontSize":12.5,"titleFontSize":13,"tickSize":3,"labelPadding":3,"domainColor":"#aaa","tickColor":"#aaa","titlePadding":4}},"y2":{"field":"hi"}}},
 {"data":{"name":"d2c"},"mark":{"type":"point","shape":"circle","filled":false,"size":70,"color":"#3a3a3a","strokeWidth":1.2,"opacity":0.85}},
 {"data":{"name":"d2"},"mark":{"type":"point","shape":"circle","filled":true,"size":14,"color":"#22b14c","opacity":1}},
 {"data":{"name":"br2"},"mark":{"type":"line","color":"#333","strokeWidth":1.5},"encoding":{"detail":{"field":"g"},"order":{"field":"o"}}},
 {"data":{"values":[{"cat":"β-Hydroxybutylate","y":18.9,"t":"***"}]},"mark":{"type":"text","align":"center","baseline":"alphabetic","fontSize":15,"color":"#222"},"encoding":{"text":{"field":"t"}}}
 ]},
{"encoding":{
 "x":{"field":"x","type":"quantitative","scale":{"domain":[0.86,8.33],"range":[965,1041.7],"nice":false,"zero":false},"axis":{"orient":"bottom","offset":-168,"values":[2,4,6,8],"title":"Log₁₀[D-lactate (nM)]","labelFontSize":8.5,"titleFontSize":10.5,"tickSize":2,"labelPadding":1,"titlePadding":1,"domainColor":"#333","tickColor":"#333"}},
 "y":{"field":"y","type":"quantitative","scale":{"domain":[-0.7,13.77],"range":[330,261.7],"nice":false,"zero":false},"axis":{"orient":"left","offset":-965,"values":[0,4,8,12],"title":"ΔF/F","titleFontStyle":"italic","labelFontSize":8.5,"titleFontSize":11,"tickSize":2,"labelPadding":1,"titlePadding":2,"domainColor":"#333","tickColor":"#333"}}},
 "layer":[
 {"data":{"values":[{"x":-1.28,"x2":9.63,"y":-6.4,"y2":15.8}]},"mark":{"type":"rect","fill":"transparent","stroke":"#333","strokeWidth":1.8},"encoding":{"x2":{"field":"x2"},"y2":{"field":"y2"}}},
 {"data":{"name":"i2"},"transform":[{"filter":"datum.s=='pt'"}],"mark":{"type":"rule","color":"#bbb"},"encoding":{"y":{"field":"lo","type":"quantitative","scale":{"domain":[-0.7,13.77],"range":[330,261.7],"nice":false,"zero":false},"axis":{"orient":"left","offset":-965,"values":[0,4,8,12],"title":"ΔF/F","titleFontStyle":"italic","labelFontSize":8.5,"titleFontSize":11,"tickSize":2,"labelPadding":1,"titlePadding":2,"domainColor":"#333","tickColor":"#333"}},"y2":{"field":"hi"}}},
 {"data":{"name":"i2"},"transform":[{"filter":"datum.s=='fit'"}],"mark":{"type":"line","color":"#444","strokeWidth":1,"interpolate":"monotone"}},
 {"data":{"name":"i2"},"transform":[{"filter":"datum.s=='pt'"}],"mark":{"type":"point","shape":"square","filled":true,"size":7,"color":"#111","opacity":1}},
 {"data":{"values":[{"x":1.35,"y":13.07,"t":"Kd: 4.9 mM"}]},"mark":{"type":"text","align":"left","baseline":"middle","fontSize":8.5,"color":"#222"},"encoding":{"text":{"field":"t"}}}
 ]}
],
"resolve":{"scale":{"x":"independent","y":"independent"},"axis":{"x":"independent","y":"independent"}}
}
